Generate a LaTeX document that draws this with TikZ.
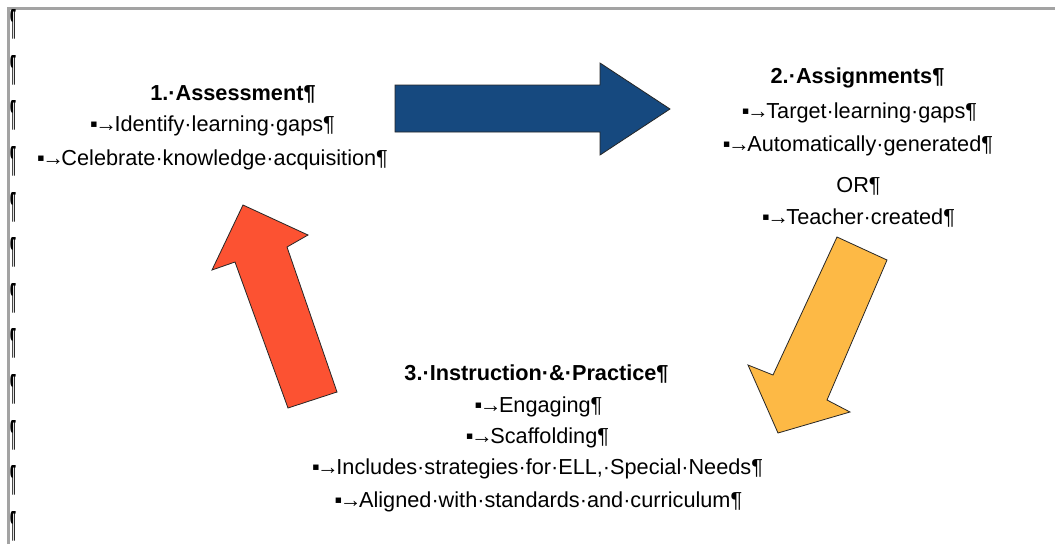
\documentclass[tikz,border=0pt]{standalone}
\usepackage{fontspec}
\setmainfont{Liberation Sans}
\usepackage{graphicx}
% bullet followed by the tab arrow, set tight together
\newcommand\tabbullet{▪\kern-2.5pt\textbf{→}\kern-2.5pt}
\begin{document}
\begin{tikzpicture}[x=1pt,y=-1pt,
  label/.style={anchor=base,inner sep=0pt,font=\fontsize{21.7}{26}\selectfont},
  head/.style={label,font=\fontsize{21.7}{26}\selectfont\bfseries},
  parmark/.style={anchor=center,inner sep=0pt,font=\fontsize{21}{25}\selectfont\bfseries},
  blockarrow/.style={draw=black!85,line width=0.8pt,line join=miter}]
\definecolor{frameGrey}{HTML}{A3A3A3}
\definecolor{stepBlue}{HTML}{16497F}
\definecolor{stepRed}{HTML}{FC5232}
\definecolor{stepGold}{HTML}{FDB945}
\useasboundingbox (0,0) rectangle (1055,544);
\fill[white] (0,0) rectangle (1055,544);

% page edge
\draw[frameGrey,line width=2.5pt] (8.5,544) -- (8.5,8.5) -- (1055,8.5);

% paragraph marks down the left margin
\foreach \k in {0,...,11}{
  \node[parmark] (pm\k) at (13.2,{24.5+45.6*\k}) {\resizebox{6pt}{25pt}{¶}};
}

% block arrows
\fill[stepBlue,blockarrow]
  (395,85) -- (600,85) -- (600,63) -- (670,109) -- (600,155) -- (600,132) -- (395,132) -- cycle;
\fill[stepGold,blockarrow]
  (837,237) -- (887,260) -- (827,400) -- (850,412) -- (778,433) -- (748,365) -- (773,375) -- cycle;
\fill[stepRed,blockarrow]
  (337,392) -- (288,408) -- (235,262) -- (212,270) -- (243,205) -- (308,235) -- (287,247) -- cycle;

% step 1
\node[head]  (a1) at (233,100.5) {1.·Assessment¶};
\node[label] (a2) at (212.5,131) {\tabbullet Identify·learning·gaps¶};
\node[label] (a3) at (212.5,165) {\tabbullet Celebrate·knowledge·acquisition¶};

% step 2
\node[head]  (b1) at (857.5,83) {2.·Assignments¶};
\node[label] (b2) at (859.5,118) {\tabbullet Target·learning·gaps¶};
\node[label] (b3) at (858,151) {\tabbullet Automatically·generated¶};
\node[label] (b4) at (858.5,192) {OR¶};
\node[label] (b5) at (858.5,224) {\tabbullet Teacher·created¶};

% step 3
\node[head]  (c1) at (536.5,380) {3.·Instruction·\&·Practice¶};
\node[label] (c2) at (538.5,412) {\tabbullet Engaging¶};
\node[label] (c3) at (537.5,443) {\tabbullet Scaffolding¶};
\node[label] (c4) at (537.5,474) {\tabbullet Includes·strategies·for·ELL,·Special·Needs¶};
\node[label] (c5) at (538.5,507) {\tabbullet Aligned·with·standards·and·curriculum¶};
\end{tikzpicture}
\end{document}
